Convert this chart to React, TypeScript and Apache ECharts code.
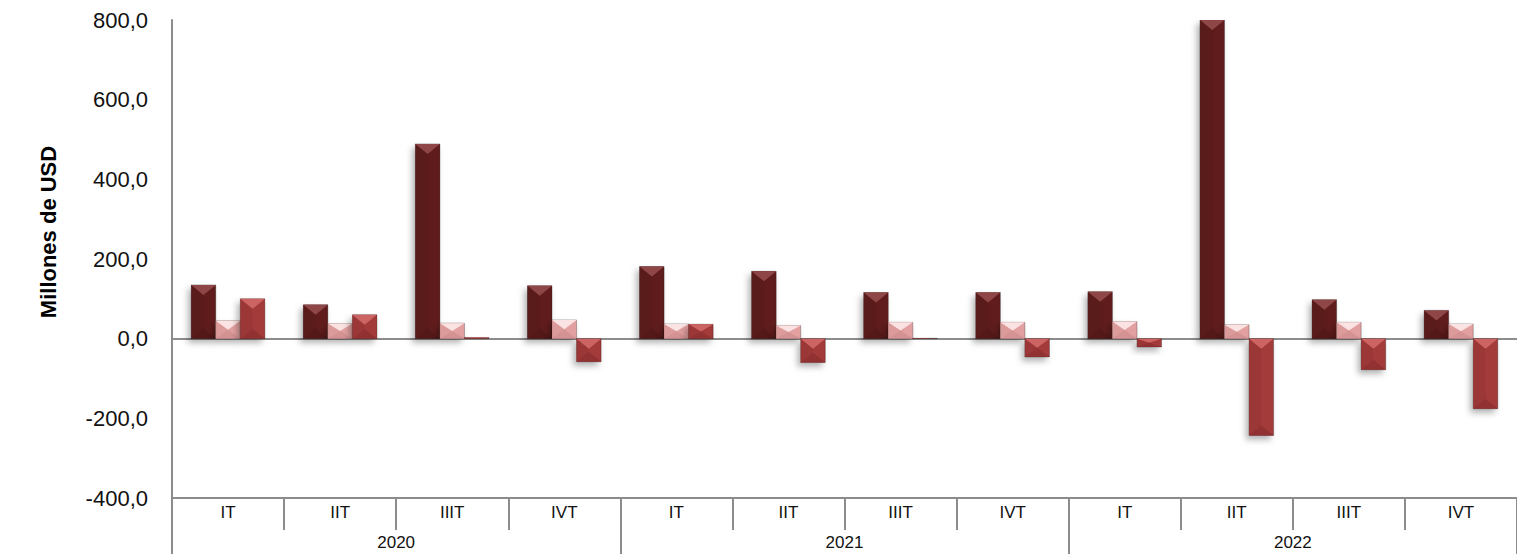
import React, { useEffect, useRef } from "react";
import * as echarts from "echarts";

const quarters = ["IT", "IIT", "IIIT", "IVT", "IT", "IIT", "IIIT", "IVT", "IT", "IIT", "IIIT", "IVT"];
const years = ["2020", "2021", "2022"];
const seriesA = [135, 85, 489, 133, 181, 169, 116, 116, 118, 850, 98, 71];
const seriesB = [45, 38, 39, 47, 37, 33, 41, 41, 43, 35, 41, 37];
const seriesC = [100, 60, 3, -58, 36, -60, 1, -46, -21, -243, -78, -176];
const yTicks = { min: -400, max: 800, interval: 200 };

const FONT = "'Liberation Sans', Arial, sans-serif";

const palette = [
  { base: "#611f1f", top: "#8f4646", bottom: "#4e1717", side: "#561b1b" },
  { base: "#e2a0a0", top: "#fbe3e3", bottom: "#cf8c8c", side: "#d99797" },
  { base: "#a33a3a", top: "#cc6463", bottom: "#8a2e2e", side: "#983535" },
];

function makeRenderItem(sIdx: number) {
  return (params: any, api: any) => {
    const x = api.value(0);
    const v = api.value(1);
    const cs = params.coordSys;
    const p0 = api.coord([x, 0]);
    const p1 = api.coord([x, v]);
    const band = api.size([1, 0])[0];
    const w = band * 0.219;
    const left = p0[0] - 1.5 * w + sIdx * w;
    let top = Math.min(p0[1], p1[1]);
    let bot = Math.max(p0[1], p1[1]);
    top = Math.max(top, cs.y);
    bot = Math.min(bot, cs.y + cs.height);
    const h = bot - top;
    if (h <= 0.1) return null;
    const c = palette[sIdx];
    const d = Math.min(10, h / 2);
    const right = left + w;
    const cx = left + w / 2;
    return {
      type: "group",
      children: [
        {
          type: "rect",
          shape: { x: left, y: top, width: w, height: h },
          style: {
            fill: c.base,
            stroke: "rgba(0,0,0,0.25)",
            lineWidth: 1,
            shadowBlur: 6,
            shadowOffsetX: -3,
            shadowOffsetY: 4,
            shadowColor: "rgba(0,0,0,0.3)",
          },
        },
        {
          type: "polygon",
          shape: { points: [[left, top], [cx, top + d], [cx, bot - d], [left, bot]] },
          style: { fill: c.side, opacity: 0.6 },
        },
        {
          type: "polygon",
          shape: { points: [[left, top], [right, top], [cx, top + d]] },
          style: { fill: c.top },
        },
        {
          type: "polygon",
          shape: { points: [[left, bot], [right, bot], [cx, bot - d]] },
          style: { fill: c.bottom, opacity: 0.7 },
        },
      ],
    };
  };
}

export default function App() {
  const ref = useRef<HTMLDivElement>(null);
  useEffect(() => {
    if (!ref.current) return;
    const chart = echarts.init(ref.current, null, { renderer: "svg" });
    const all = [seriesA, seriesB, seriesC];
    chart.setOption({
      animation: false,
      backgroundColor: "#ffffff",
      grid: { left: 172, top: 20, bottom: 56, right: -8, containLabel: false },
      xAxis: [
        {
          type: "category",
          data: quarters,
          position: "bottom",
          boundaryGap: true,
          axisLine: { onZero: false, lineStyle: { color: "#8c8c8c", width: 2 } },
          axisTick: { show: true, length: 32, lineStyle: { color: "#8c8c8c", width: 2 } },
          axisLabel: { color: "#111", fontSize: 17, fontFamily: FONT, margin: 6, interval: 0 },
          z: 1,
        },
        {
          type: "category",
          data: years,
          position: "bottom",
          boundaryGap: true,
          axisLine: { onZero: false, show: false },
          axisTick: { show: true, length: 60, lineStyle: { color: "#8c8c8c", width: 2 } },
          axisLabel: { color: "#111", fontSize: 17, fontFamily: FONT, margin: 36, interval: 0 },
        },
        {
          type: "category",
          data: quarters,
          position: "bottom",
          axisLine: { onZero: true, onZeroAxisIndex: 0, lineStyle: { color: "#8c8c8c", width: 2 } },
          axisTick: { show: false },
          axisLabel: { show: false },
        },
      ],
      yAxis: {
        type: "value",
        min: yTicks.min,
        max: yTicks.max,
        interval: yTicks.interval,
        axisLine: { show: true, lineStyle: { color: "#8c8c8c", width: 2 } },
        axisTick: { show: false },
        splitLine: { show: false },
        axisLabel: {
          color: "#111",
          fontSize: 22,
          fontFamily: FONT,
          margin: 24,
          formatter: (v: number) => v.toFixed(1).replace(".", ","),
        },
      },
      graphic: [
        {
          type: "text",
          x: 48,
          y: 232,
          rotation: Math.PI / 2,
          style: {
            text: "Millones de USD",
            fill: "#000",
            font: "bold 22px 'Liberation Sans', Arial, sans-serif",
            align: "center",
            verticalAlign: "middle",
          },
        },
      ],
      series: all.map((arr, i) => ({
        type: "custom",
        xAxisIndex: 0,
        yAxisIndex: 0,
        clip: true,
        renderItem: makeRenderItem(i),
        encode: { x: 0, y: 1 },
        data: arr.map((v, k) => [k, v]),
        z: 3,
      })),
    });
    return () => chart.dispose();
  }, []);
  return (
    <div
      ref={ref}
      style={{ position: "absolute", left: 0, top: 0, width: 1517, height: 554, background: "#fff" }}
    />
  );
}
